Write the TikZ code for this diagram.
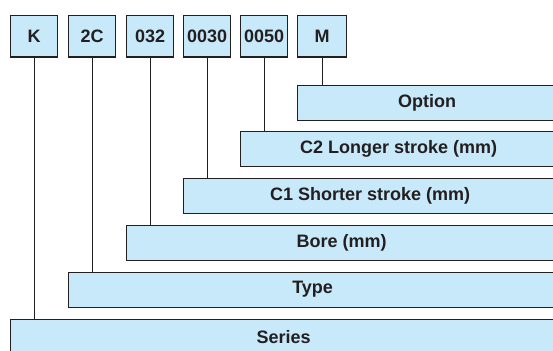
\documentclass[tikz,border=0pt]{standalone}
\usepackage{fontspec}
\setmainfont{Liberation Sans}
\definecolor{barblue}{RGB}{200,233,249}
\definecolor{inkgray}{RGB}{35,31,32}

\begin{document}
\begin{tikzpicture}[
  x=1pt,y=-1pt,
  font=\bfseries\fontsize{18}{20}\selectfont,
  codebox/.style={draw=inkgray,line width=1.2pt,fill=barblue,text=inkgray,anchor=north west,
    minimum width=47pt,minimum height=41.5pt,inner sep=0pt},
  bar/.style={draw=inkgray,line width=1.2pt,fill=barblue,text=inkgray,anchor=north west,
    minimum height=35pt,inner sep=0pt},
  link/.style={draw=inkgray,line width=1pt}]

  \useasboundingbox (0,0) rectangle (553,350);

  % Code letters along the top
  \node[codebox] (K) at (10,15) {K};
  \node[codebox] (type) at (68,15) {2C};
  \node[codebox] (bore) at (126,15) {032};
  \node[codebox] (shortst) at (183,15) {0030};
  \node[codebox] (longst) at (240,15) {0050};
  \node[codebox,minimum width=49pt] (opt) at (297,15) {M};

  % Meaning bars, stepping down to the left
  \node[bar,minimum width=259pt] (Option) at (297,85) {Option};
  \node[bar,minimum width=316pt] (Longer) at (240,131) {C2 Longer stroke (mm)};
  \node[bar,minimum width=373pt] (Shorter) at (183,178) {C1 Shorter stroke (mm)};
  \node[bar,minimum width=430pt] (Bore) at (126,224.5) {Bore (mm)};
  \node[bar,minimum width=488pt] (Type) at (68,271.5) {Type};
  \node[bar,minimum width=546pt] (Series) at (10,318.5) {Series};

  % Lines from each code down to its bar
  \draw[link] (K.south) -- (K.south |- Series.north);
  \draw[link] (type.south) -- (type.south |- Type.north);
  \draw[link] (bore.south) -- (bore.south |- Bore.north);
  \draw[link] (shortst.south) -- (shortst.south |- Shorter.north);
  \draw[link] (longst.south) -- (longst.south |- Longer.north);
  \draw[link] (opt.south) -- (opt.south |- Option.north);
\end{tikzpicture}
\end{document}
